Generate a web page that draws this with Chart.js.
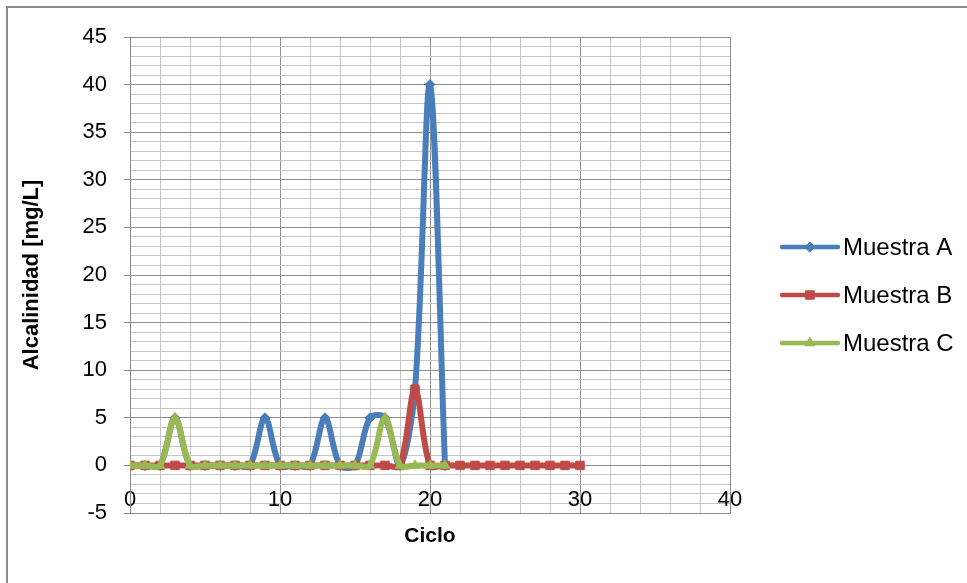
<!DOCTYPE html>
<html>
<head>
<meta charset="utf-8">
<script src="https://cdn.jsdelivr.net/npm/chart.js@4.4.0/dist/chart.umd.min.js"></script>
<style>
html,body{margin:0;padding:0;background:#ffffff;}
#wrap{width:967px;height:583px;position:relative;}
</style>
</head>
<body>
<div id="wrap"><canvas id="c" width="967" height="583"></canvas></div>
<script>
// ---- data ----
const ciclosA  = [0,1,2,3,4,5,6,7,8,9,10,11,12,13,14,15,16,17,18,19,20,21];
const muestraA = [0,0,0,5,0,0,0,0,0,5,0,0,0,5,0,0,5,5,0,8,40,0];

const ciclosB  = [0,1,2,3,4,5,6,7,8,9,10,11,12,13,14,15,16,17,18,19,20,21,22,23,24,25,26,27,28,29,30];
const muestraB = [0,0,0,0,0,0,0,0,0,0,0,0,0,0,0,0,0,0,0,8,0,0,0,0,0,0,0,0,0,0,0];

const ciclosC  = [0,1,2,3,4,5,6,7,8,9,10,11,12,13,14,15,16,17,18,19,20,21];
const muestraC = [0,0,0,5,0,0,0,0,0,0,0,0,0,0,0,0,0,5,0,0,0,0];

const seriesNames = ['Muestra A','Muestra B','Muestra C'];
const xLabelTicks = [0,10,20,30,40];
const yLabelTicks = [-5,0,5,10,15,20,25,30,35,40,45];
const xTitle = 'Ciclo';
const yTitle = 'Alcalinidad [mg/L]';

// ---- styling ----
const FONT = "'Liberation Sans', Arial, sans-serif";
const MAJOR = '#8e8e8e';
const MINOR = '#c6c6c6';
const colors = ['#4a7ebb', '#be4b48', '#98b954'];

function pts(xs, ys){ return xs.map((x,i)=>({x:x, y:ys[i]})); }

const borderPlugin = {
  id: 'outerBorder',
  beforeDraw(chart){
    const ctx = chart.ctx;
    ctx.save();
    ctx.fillStyle = '#ffffff';
    ctx.fillRect(0,0,chart.width,chart.height);
    ctx.strokeStyle = '#8a8a8a';
    ctx.lineWidth = 2;
    ctx.strokeRect(7,7,chart.width+20,chart.height+20);
    ctx.restore();
  }
};

const legendPlugin = {
  id: 'lineLegend',
  afterDraw(chart){
    const ctx = chart.ctx;
    const area = chart.chartArea;
    const x0 = area.right + 52;
    const len = 56;
    const cy = (area.top + area.bottom)/2 + 20;
    const gap = 48;
    ctx.save();
    chart.data.datasets.forEach((d,i)=>{
      const y = cy + (i-1)*gap;
      ctx.strokeStyle = d.borderColor;
      ctx.lineWidth = 4.5;
      ctx.lineCap = 'round';
      ctx.beginPath();
      ctx.moveTo(x0, y);
      ctx.lineTo(x0+len, y);
      ctx.stroke();
      ctx.fillStyle = d.pointBackgroundColor;
      ctx.strokeStyle = d.pointBorderColor;
      ctx.lineWidth = 1;
      Chart.helpers.drawPoint(ctx, {pointStyle: d.pointStyle, radius: d.pointRadius, rotation: 0, borderWidth: 1}, x0+len/2, y);
      ctx.fillStyle = '#000000';
      ctx.font = '24px ' + FONT;
      ctx.textAlign = 'left';
      ctx.textBaseline = 'middle';
      ctx.fillText(d.label, x0+len+5, y+1);
    });
    ctx.restore();
  }
};

function mkDataset(i, xs, ys, style, radius, order){
  return {
    label: seriesNames[i],
    data: pts(xs, ys),
    borderColor: colors[i],
    backgroundColor: colors[i],
    pointBackgroundColor: colors[i],
    pointBorderColor: colors[i],
    pointBorderWidth: 1,
    pointStyle: style,
    pointRadius: radius,
    borderWidth: 6,
    borderCapStyle: 'round',
    borderJoinStyle: 'round',
    tension: 0.33,
    fill: false,
    order: order
  };
}

new Chart(document.getElementById('c'), {
  type: 'scatter',
  data: {
    datasets: [
      mkDataset(0, ciclosA, muestraA, 'rectRot', 5, 3),
      mkDataset(1, ciclosB, muestraB, 'rect', 6, 2),
      mkDataset(2, ciclosC, muestraC, 'triangle', 5.5, 1)
    ]
  },
  options: {
    responsive: false,
    animation: false,
    devicePixelRatio: 1,
    showLine: true,
    layout: { padding: { left: 0, right: 237, top: 37, bottom: 0 } },
    plugins: {
      legend: { display: false },
      tooltip: { enabled: false }
    },
    scales: {
      x: {
        type: 'linear',
        position: 'bottom',
        min: 0, max: 40,
        afterFit(scale){ scale.height = 70; },
        border: { display: true, color: MAJOR, width: 1 },
        grid: {
          drawTicks: false,
          color: (c)=> (c.tick && Math.round(c.tick.value) % 10 === 0) ? MAJOR : MINOR,
          lineWidth: 1
        },
        ticks: {
          stepSize: 2,
          autoSkip: false,
          maxRotation: 0,
          mirror: true,
          padding: 0,
          color: '#000000',
          font: { family: FONT, size: 22 },
          callback: (v)=> xLabelTicks.includes(Math.round(v)) ? String(Math.round(v)) : ''
        },
        title: {
          display: true,
          text: xTitle,
          color: '#000000',
          font: { family: FONT, size: 21, weight: 'bold' },
          padding: { top: 0, bottom: 34 }
        }
      },
      y: {
        type: 'linear',
        position: 'left',
        min: -5, max: 45,
        afterFit(scale){ scale.width = 130; },
        border: { display: true, color: '#868686', width: 1 },
        grid: {
          drawTicks: true,
          tickLength: 6,
          color: (c)=> (c.tick && Math.round(c.tick.value) % 5 === 0) ? MAJOR : MINOR,
          tickColor: (c)=> (c.tick && Math.round(c.tick.value) % 5 === 0) ? '#868686' : 'rgba(0,0,0,0)',
          lineWidth: 1
        },
        ticks: {
          stepSize: 1,
          autoSkip: false,
          padding: 17,
          color: '#000000',
          font: { family: FONT, size: 22 },
          callback: (v)=> yLabelTicks.includes(Math.round(v)) ? String(Math.round(v)) : ''
        },
        title: {
          display: true,
          text: yTitle,
          color: '#000000',
          font: { family: FONT, size: 22, weight: 'bold' },
          padding: { top: 19, bottom: 0 }
        }
      }
    }
  },
  plugins: [borderPlugin, legendPlugin]
});
</script>
</body>
</html>
